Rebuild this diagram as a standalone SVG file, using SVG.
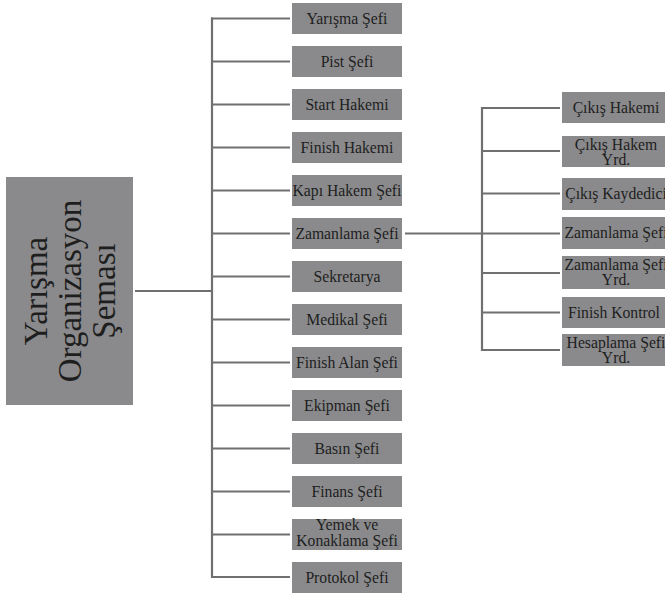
<svg xmlns="http://www.w3.org/2000/svg" width="665" height="594" viewBox="0 0 665 594">
<style>
.box{fill:#8a8a8c}
.t{font-family:"Liberation Serif","Times New Roman",serif;font-size:15.7px;fill:#1e1e1e;text-anchor:middle}
.big{font-family:"Liberation Serif","Times New Roman",serif;font-size:33px;fill:#1e1e1e;text-anchor:middle}
.c{stroke:#707072;stroke-width:2.2;fill:none}
</style>
<rect width="665" height="594" fill="#ffffff"/>
<g id="connectors" class="c">
<line x1="135" y1="291" x2="213" y2="291"/>
<line x1="212" y1="17.5" x2="212" y2="578"/>
<line x1="211" y1="18.5" x2="290" y2="18.5"/>
<line x1="211" y1="61.5" x2="290" y2="61.5"/>
<line x1="211" y1="104.5" x2="290" y2="104.5"/>
<line x1="211" y1="147.5" x2="290" y2="147.5"/>
<line x1="211" y1="190.5" x2="290" y2="190.5"/>
<line x1="211" y1="233.5" x2="290" y2="233.5"/>
<line x1="211" y1="276.5" x2="290" y2="276.5"/>
<line x1="211" y1="319.5" x2="290" y2="319.5"/>
<line x1="211" y1="362.5" x2="290" y2="362.5"/>
<line x1="211" y1="405.5" x2="290" y2="405.5"/>
<line x1="211" y1="448.5" x2="290" y2="448.5"/>
<line x1="211" y1="491.5" x2="290" y2="491.5"/>
<line x1="211" y1="534.5" x2="290" y2="534.5"/>
<line x1="211" y1="577" x2="290" y2="577"/>
<line x1="405" y1="233.5" x2="482" y2="233.5"/>
<line x1="482" y1="107" x2="482" y2="351"/>
<line x1="481" y1="108" x2="560" y2="108"/>
<line x1="481" y1="151" x2="560" y2="151"/>
<line x1="481" y1="193.5" x2="560" y2="193.5"/>
<line x1="481" y1="233.5" x2="560" y2="233.5"/>
<line x1="481" y1="273" x2="560" y2="273"/>
<line x1="481" y1="312.5" x2="560" y2="312.5"/>
<line x1="481" y1="350" x2="560" y2="350"/>
</g>
<g id="root">
<rect class="box" x="6" y="177" width="127" height="228"/>
<text class="big" transform="rotate(-90)" x="-291" y="47">Yarışma</text>
<text class="big" transform="rotate(-90)" x="-291" y="81">Organizasyon</text>
<text class="big" transform="rotate(-90)" x="-291" y="115">Şeması</text>
</g>
<g id="n1"><rect class="box" x="292" y="3" width="110" height="31"/><text class="t" x="347" y="24">Yarışma Şefi</text></g>
<g id="n2"><rect class="box" x="292" y="46" width="110" height="31"/><text class="t" x="347" y="67">Pist Şefi</text></g>
<g id="n3"><rect class="box" x="292" y="89" width="110" height="31"/><text class="t" x="347" y="110">Start Hakemi</text></g>
<g id="n4"><rect class="box" x="292" y="132" width="110" height="31"/><text class="t" x="347" y="153">Finish Hakemi</text></g>
<g id="n5"><rect class="box" x="292" y="175" width="110" height="31"/><text class="t" x="347" y="196">Kapı Hakem Şefi</text></g>
<g id="n6"><rect class="box" x="292" y="218" width="110" height="31"/><text class="t" x="347" y="239">Zamanlama Şefi</text></g>
<g id="n7"><rect class="box" x="292" y="261" width="110" height="31"/><text class="t" x="347" y="282">Sekretarya</text></g>
<g id="n8"><rect class="box" x="292" y="304" width="110" height="31"/><text class="t" x="347" y="325">Medikal Şefi</text></g>
<g id="n9"><rect class="box" x="292" y="347" width="110" height="31"/><text class="t" x="347" y="368">Finish Alan Şefi</text></g>
<g id="n10"><rect class="box" x="292" y="390" width="110" height="31"/><text class="t" x="347" y="411">Ekipman Şefi</text></g>
<g id="n11"><rect class="box" x="292" y="433" width="110" height="31"/><text class="t" x="347" y="454">Basın Şefi</text></g>
<g id="n12"><rect class="box" x="292" y="476" width="110" height="31"/><text class="t" x="347" y="497">Finans Şefi</text></g>
<g id="n13"><rect class="box" x="292" y="519" width="110" height="31"/><text class="t" x="347" y="530">Yemek ve</text><text class="t" x="347" y="546">Konaklama Şefi</text></g>
<g id="n14"><rect class="box" x="292" y="562" width="110" height="31"/><text class="t" x="347" y="583">Protokol Şefi</text></g>
<g id="s1"><rect class="box" x="562" y="92" width="110" height="31"/><text class="t" x="616" y="113">Çıkış Hakemi</text></g>
<g id="s2"><rect class="box" x="562" y="136" width="110" height="31"/><text class="t" x="616" y="150">Çıkış Hakem</text><text class="t" x="616" y="165">Yrd.</text></g>
<g id="s3"><rect class="box" x="562" y="178" width="110" height="32"/><text class="t" x="616" y="199">Çıkış Kaydedici</text></g>
<g id="s4"><rect class="box" x="562" y="217" width="110" height="32"/><text class="t" x="616" y="238">Zamanlama Şefi</text></g>
<g id="s5"><rect class="box" x="562" y="256" width="110" height="33"/><text class="t" x="616" y="270">Zamanlama Şefi</text><text class="t" x="616" y="285">Yrd.</text></g>
<g id="s6"><rect class="box" x="562" y="297" width="110" height="31"/><text class="t" x="614" y="318">Finish Kontrol</text></g>
<g id="s7"><rect class="box" x="562" y="334" width="110" height="32"/><text class="t" x="616" y="348">Hesaplama Şefi</text><text class="t" x="616" y="363">Yrd.</text></g>
</svg>
